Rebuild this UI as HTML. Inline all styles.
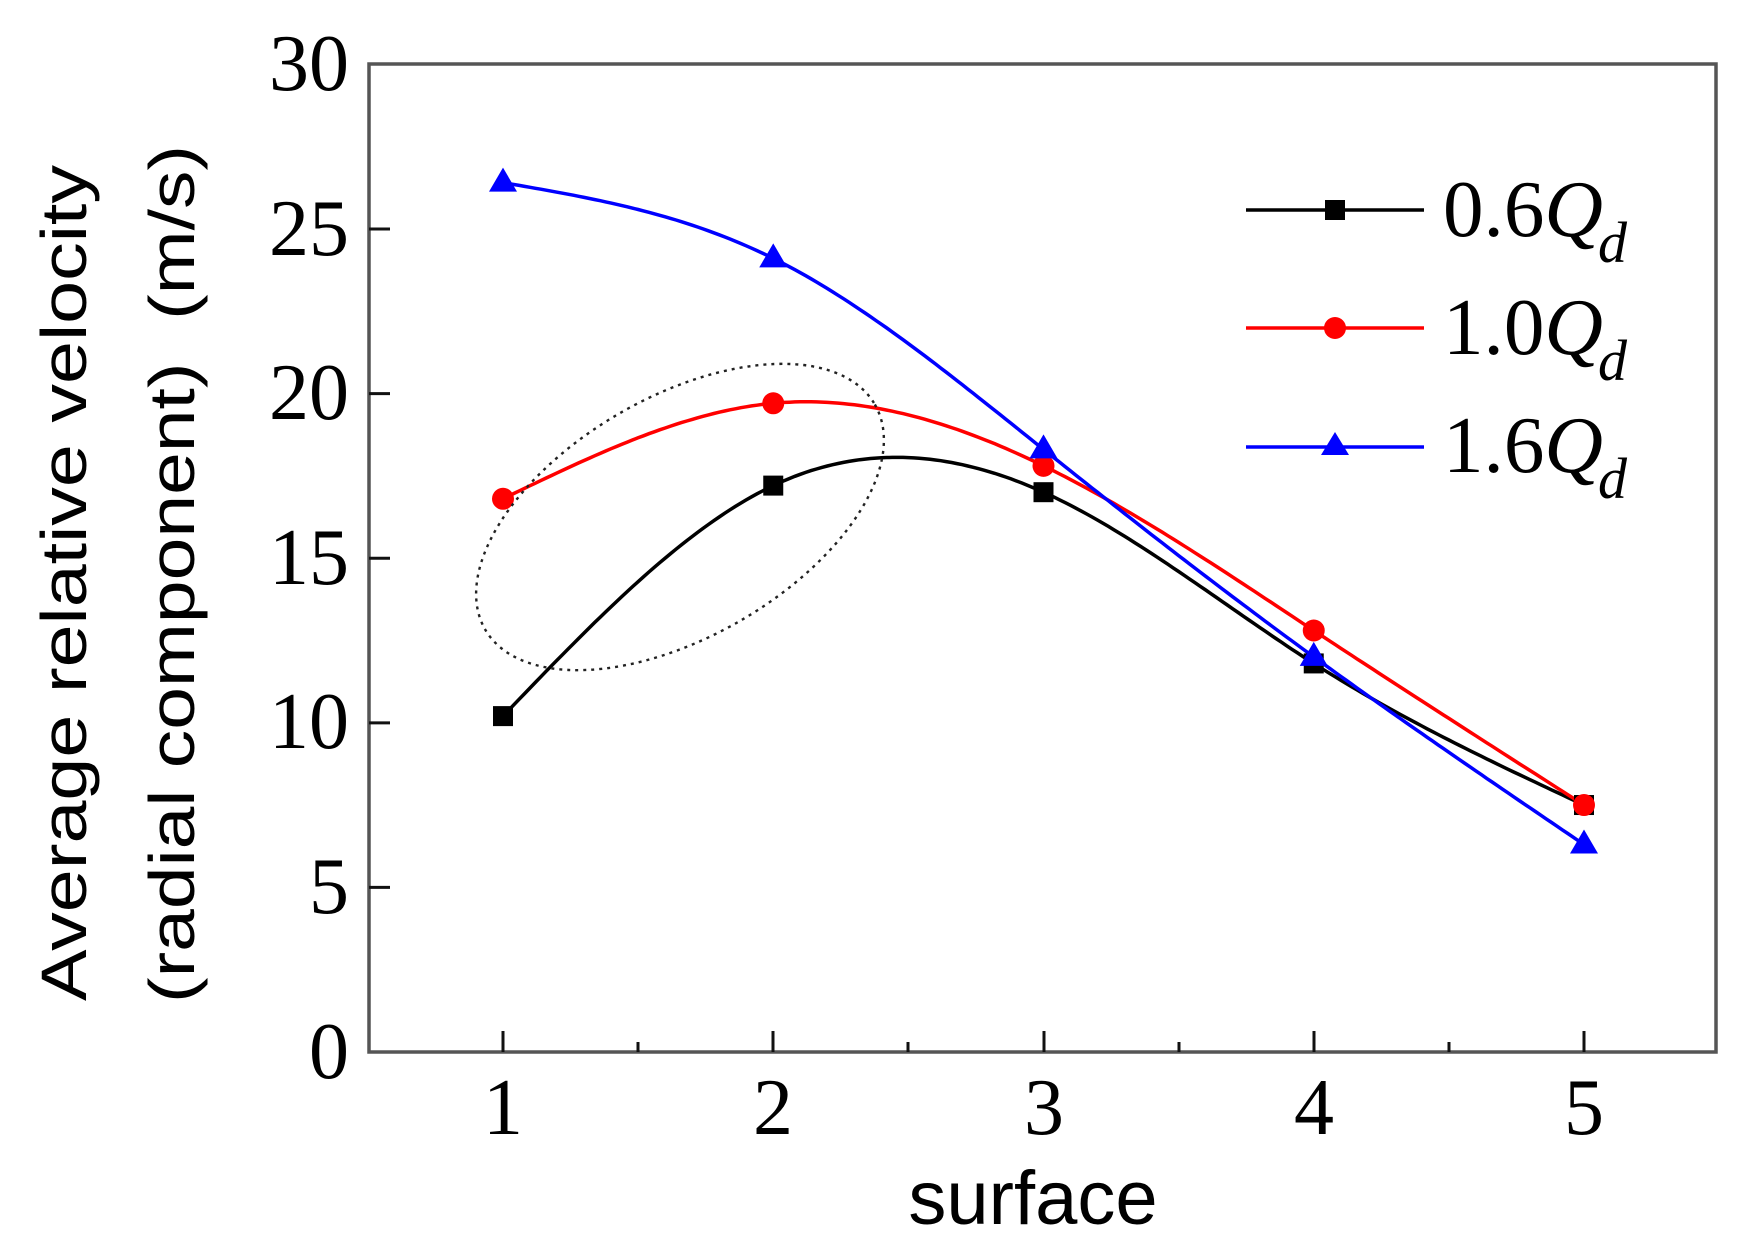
<!DOCTYPE html>
<html><head><meta charset="utf-8"><style>
html,body{margin:0;padding:0;background:#fff;}
svg{display:block;}
</style></head><body>
<svg id="s" width="1740" height="1258" viewBox="0 0 1740 1258" xmlns="http://www.w3.org/2000/svg">
<rect width="1740" height="1258" fill="#fff"/>
<g id="plot"></g>
<rect x="369" y="64" width="1347" height="988" fill="none" stroke="#555" stroke-width="3.5"/>
<g stroke="#111" stroke-width="3">
<line x1="503" y1="1052" x2="503" y2="1031"/><line x1="773" y1="1052" x2="773" y2="1031"/><line x1="1044" y1="1052" x2="1044" y2="1031"/><line x1="1314" y1="1052" x2="1314" y2="1031"/><line x1="1584" y1="1052" x2="1584" y2="1031"/>
<line x1="638" y1="1052" x2="638" y2="1042"/><line x1="908" y1="1052" x2="908" y2="1042"/><line x1="1179" y1="1052" x2="1179" y2="1042"/><line x1="1449" y1="1052" x2="1449" y2="1042"/>
<line x1="369" y1="229" x2="390" y2="229"/><line x1="369" y1="393.6" x2="390" y2="393.6"/><line x1="369" y1="558.3" x2="390" y2="558.3"/><line x1="369" y1="722.9" x2="390" y2="722.9"/><line x1="369" y1="887.4" x2="390" y2="887.4"/>
</g>
<g font-family="Liberation Serif, serif" font-size="80" fill="#000" text-anchor="end">
<text x="349" y="90">30</text><text x="349" y="255">25</text><text x="349" y="419">20</text><text x="349" y="584">15</text><text x="349" y="748">10</text><text x="349" y="913">5</text><text x="349" y="1078">0</text>
</g>
<g font-family="Liberation Serif, serif" font-size="80" fill="#000" text-anchor="middle">
<text x="503" y="1134">1</text><text x="773" y="1134">2</text><text x="1044" y="1134">3</text><text x="1314" y="1134">4</text><text x="1584" y="1134">5</text>
</g>
<text x="1033" y="1224" font-family="Liberation Sans, sans-serif" font-size="76" text-anchor="middle">surface</text>
<text transform="translate(86,583) rotate(-90)" font-family="Liberation Sans, sans-serif" font-size="64" text-anchor="middle" textLength="836" lengthAdjust="spacingAndGlyphs">Average relative velocity</text>
<text transform="translate(194,574) rotate(-90)" font-family="Liberation Sans, sans-serif" font-size="64" text-anchor="middle" textLength="858" lengthAdjust="spacingAndGlyphs" xml:space="preserve">(radial component)  (m/s)</text>
<ellipse cx="680" cy="517" rx="225" ry="120" transform="rotate(-30 680 517)" fill="none" stroke="#222" stroke-width="2.4" stroke-dasharray="3,5"/>
<g>
<line x1="1246" y1="210" x2="1424" y2="210" stroke="#000" stroke-width="3.5"/>
<rect x="1325" y="200" width="20" height="20" fill="#000"/>
<line x1="1246" y1="328" x2="1424" y2="328" stroke="#f00" stroke-width="3.5"/>
<circle cx="1335" cy="328" r="11" fill="#f00"/>
<line x1="1246" y1="447" x2="1424" y2="447" stroke="#00f" stroke-width="3.5"/>
<polygon points="1335,432 1321,455 1349,455" fill="#00f"/>
</g>
<g font-family="Liberation Serif, serif" font-size="80" fill="#000">
<text x="1443" y="236" textLength="160" lengthAdjust="spacingAndGlyphs">0.6<tspan font-style="italic">Q</tspan></text><text x="1598" y="262" font-style="italic" font-size="58">d</text>
<text x="1443" y="354" textLength="160" lengthAdjust="spacingAndGlyphs">1.0<tspan font-style="italic">Q</tspan></text><text x="1598" y="380" font-style="italic" font-size="58">d</text>
<text x="1443" y="472" textLength="160" lengthAdjust="spacingAndGlyphs">1.6<tspan font-style="italic">Q</tspan></text><text x="1598" y="498" font-style="italic" font-size="58">d</text>
</g>
</svg>
<script>
(function(){
var X=function(v){return 503+(v-1)*270.25;},Y=function(v){return 1052-v*32.93;};
function spline(ys){
 var n=ys.length,m=new Array(n).fill(0);
 var A=[],B=[],C=[],D=[];
 for(var i=1;i<n-1;i++){A.push(1);B.push(4);C.push(1);D.push(6*(ys[i+1]-2*ys[i]+ys[i-1]));}
 var k=A.length;
 for(var i=1;i<k;i++){var w=A[i]/B[i-1];B[i]-=w*C[i-1];D[i]-=w*D[i-1];}
 var M=new Array(k);M[k-1]=D[k-1]/B[k-1];
 for(var i=k-2;i>=0;i--)M[i]=(D[i]-C[i]*M[i+1])/B[i];
 for(var i=0;i<k;i++)m[i+1]=M[i];
 var pts=[];
 for(var i=0;i<n-1;i++){for(var t=0;t<=1.0001;t+=0.02){
  var v=(1-t)*ys[i]+t*ys[i+1]+((1-t)*(1-t)*(1-t)-(1-t))*m[i]/6+(t*t*t-t)*m[i+1]/6;
  pts.push(X(1+i+t).toFixed(1)+','+Y(v).toFixed(1));}}
 return pts.join(' ');
}
var S=[{y:[10.2,17.2,17.0,11.8,7.5],c:'#000',mk:'s'},{y:[16.8,19.7,17.8,12.8,7.5],c:'#f00',mk:'c'},{y:[26.4,24.1,18.3,12.0,6.3],c:'#00f',mk:'t'}];
var g=document.getElementById('plot'),html='';
S.forEach(function(s){html+='<polyline points="'+spline(s.y)+'" fill="none" stroke="'+s.c+'" stroke-width="3.5"/>';});
S.forEach(function(s){s.y.forEach(function(v,i){var x=X(i+1),y=Y(v);
 if(s.mk=='s')html+='<rect x="'+(x-10)+'" y="'+(y-10)+'" width="20" height="20" fill="#000"/>';
 else if(s.mk=='c')html+='<circle cx="'+x+'" cy="'+y+'" r="11" fill="#f00"/>';
 else html+='<polygon points="'+x+','+(y-15)+' '+(x-14)+','+(y+9)+' '+(x+14)+','+(y+9)+'" fill="#00f"/>';});});
g.innerHTML=html;
})();
</script>
</body></html>
